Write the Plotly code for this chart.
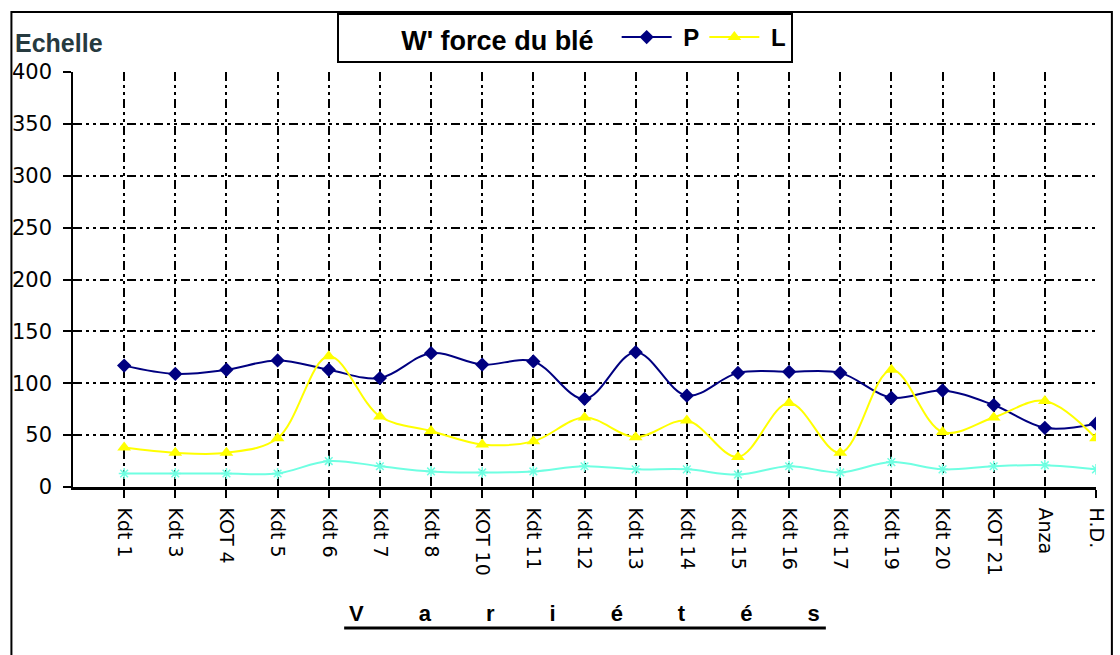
import plotly.graph_objects as go

# Alveograph results per wheat variety
varieties = ["Kdt 1", "Kdt 3", "KOT 4", "Kdt 5", "Kdt 6", "Kdt 7", "Kdt 8", "KOT 10",
             "Kdt 11", "Kdt 12", "Kdt 13", "Kdt 14", "Kdt 15", "Kdt 16", "Kdt 17",
             "Kdt 19", "Kdt 20", "KOT 21", "Anza", "H.D."]
p_values = [117, 109, 113, 122, 113, 105, 129, 118, 121, 85, 130, 88, 110, 111, 110,
            86, 93, 79, 57, 61]
l_values = [38, 33, 33, 47, 126, 68, 54, 41, 44, 67, 48, 64, 29, 81, 33, 113, 53, 67,
            83, 47]
g_values = [13, 13, 13, 13, 25, 20, 15, 14, 15, 20, 17, 17, 12, 20, 14, 24, 17, 20,
            21, 17]
y_ticks = [0, 50, 100, 150, 200, 250, 300, 350, 400]

W, H = 1120, 655
L_M, R_M, T_M, B_M = 72, 18, 72, 168
PW, PH = W - L_M - R_M, H - T_M - B_M


def px_x(px):
    return (px - L_M) / PW


def px_y(py):
    return (H - B_M - py) / PH


idx = list(range(len(varieties)))
NBSP = "\u00a0"
SMOOTH = 1.0

fig = go.Figure()
fig.add_trace(go.Scatter(
    x=idx, y=g_values, name="G", mode="lines+markers", showlegend=False,
    line=dict(color="#6FFFE2", width=2, shape="spline", smoothing=SMOOTH),
    marker=dict(symbol="asterisk-open", size=9, line=dict(color="#6FFFE2", width=1.5)),
))
fig.add_trace(go.Scatter(
    x=idx, y=p_values, name=NBSP + "P", mode="lines+markers",
    line=dict(color="#000080", width=2, shape="spline", smoothing=SMOOTH),
    marker=dict(symbol="diamond", size=11, color="#000080"),
))
fig.add_trace(go.Scatter(
    x=idx, y=l_values, name=NBSP + "L", mode="lines+markers",
    line=dict(color="#FFFF00", width=2, shape="spline", smoothing=SMOOTH),
    marker=dict(symbol="triangle-up", size=12, color="#FFFF00"),
))

grid_dash = "9px,4px,3px,4px,3px,4px"
x_range = [-1, len(varieties) - 1]

fig.update_layout(
    width=W, height=H,
    margin=dict(l=L_M, r=R_M, t=T_M, b=B_M),
    paper_bgcolor="white", plot_bgcolor="white",
    font=dict(family="Liberation Sans, Arial, sans-serif", color="black"),
    xaxis=dict(
        range=x_range, tickmode="array", tickvals=idx, ticktext=varieties,
        tickangle=90, ticks="outside", ticklen=8, tickwidth=1.5, tickcolor="black",
        tickfont=dict(family="DejaVu Sans", size=19, color="black"),
        ticklabelstandoff=6,
        showline=True, linecolor="black", linewidth=2.5,
        showgrid=True, gridcolor="black", gridwidth=1.5, griddash=grid_dash,
        zeroline=False, fixedrange=True,
    ),
    xaxis2=dict(
        overlaying="x", anchor="y", side="bottom", range=x_range,
        tickmode="array", tickvals=idx, ticks="inside", ticklen=8, tickwidth=1.5,
        tickcolor="black", showticklabels=False, showgrid=False, showline=False,
        zeroline=False,
    ),
    yaxis=dict(
        range=[0, 400], tickmode="array", tickvals=y_ticks,
        ticks="outside", ticklen=8, tickwidth=1.5, tickcolor="black",
        tickfont=dict(family="DejaVu Sans", size=21, color="black"),
        ticklabelstandoff=7,
        showline=True, linecolor="black", linewidth=1.5,
        showgrid=True, gridcolor="black", gridwidth=1.5, griddash=grid_dash,
        zeroline=False, fixedrange=True,
    ),
    yaxis2=dict(
        overlaying="y", anchor="x", side="left", range=[0, 400],
        tickmode="array", tickvals=y_ticks, ticks="inside", ticklen=8, tickwidth=1.5,
        tickcolor="black", showticklabels=False, showgrid=False, showline=False,
        zeroline=False,
    ),
    legend=dict(
        orientation="h", x=px_x(338), y=px_y(13), xanchor="left", yanchor="top",
        bgcolor="white", bordercolor="black", borderwidth=2,
        title=dict(text=NBSP * 8 + "<b>W' force du blé</b>" + NBSP * 2, side="left",
                   font=dict(size=27, family="Liberation Sans, Arial", color="black")),
        font=dict(size=24, family="Liberation Sans, Arial", color="black", weight="bold"),
        itemwidth=50, tracegroupgap=0,
    ),
    showlegend=True,
)

# Scale label above the value axis
fig.add_annotation(
    text="<b>Echelle</b>", xref="paper", yref="paper", x=px_x(12), y=px_y(43),
    xanchor="left", yanchor="middle", showarrow=False,
    font=dict(size=25, family="Liberation Sans, Arial", color="#263A3F"),
)

# Category axis title with spaced letters and a heavy underline
spaced = (NBSP * 9).join("Variétés")
fig.add_annotation(
    text="<b>" + spaced + "</b>", xref="paper", yref="paper", x=px_x(587), y=px_y(613),
    xanchor="center", yanchor="middle", showarrow=False,
    font=dict(size=22, family="Liberation Sans, Arial", color="black"),
)
fig.add_shape(type="line", xref="paper", yref="paper",
              x0=px_x(345), x1=px_x(830), y0=px_y(628), y1=px_y(628),
              line=dict(color="black", width=3))

# Chart-area frame (its bottom edge lies below the visible page)
fig.add_shape(type="rect", xref="paper", yref="paper",
              x0=px_x(10), x1=px_x(1118), y0=px_y(700), y1=px_y(12),
              line=dict(color="black", width=2), layer="below")

fig.write_html("out.html")
